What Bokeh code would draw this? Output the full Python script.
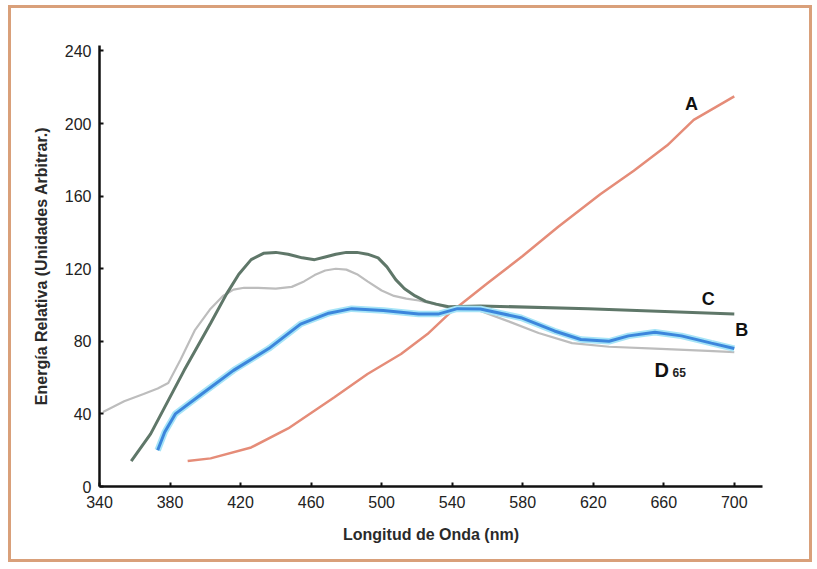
from bokeh.plotting import figure
from bokeh.embed import file_html
from bokeh.resources import INLINE
from bokeh.models import Range1d, FixedTicker
from bokeh.core.properties import value

# Wavelength (nm) and relative energy for each illuminant
A_nm = [390, 403, 426, 447, 473, 492, 511, 526, 538, 560, 580, 600, 624, 643, 662, 677, 700]
A_val = [14, 15.5, 21.5, 32, 49, 62, 73, 84, 95, 112, 127, 143, 161, 174, 188, 202, 215]

C_nm = [358, 369, 388, 403, 412, 419, 426, 433, 440, 447, 455, 462, 468, 474, 480, 486, 492, 498, 503,
        508, 513, 519, 525, 531, 538, 556, 617, 700]
C_val = [14, 29, 64, 90, 106, 117, 125, 128.5, 129, 128, 126, 125, 126.5, 128, 129, 129, 128, 126, 121,
         114, 109, 105, 102, 100.5, 99, 99.5, 98, 95]

D65_nm = [342, 354, 365, 373, 379, 386, 394, 403, 410, 416, 422, 430, 440, 449, 456, 462, 468, 474, 480,
          486, 492, 500, 507, 514, 521, 530, 538, 556, 572, 589, 608, 629, 655, 685, 700]
D65_val = [41, 47, 51, 54, 57, 70, 86, 98, 105, 108.5, 109.5, 109.5, 109, 110, 113, 116.5, 119, 120, 119.5,
           117, 113, 108, 105, 103.5, 102.5, 100.5, 98.5, 96.7, 91, 84.6, 79, 77, 76, 74.7, 74]

B_nm = [373, 377, 383, 398, 416, 436, 454, 470, 483, 501, 521, 532, 543, 556, 579, 598, 613, 629, 640,
        655, 670, 687, 700]
B_val = [20, 30, 40, 51, 64, 76, 89.5, 95.5, 98, 97, 95, 95, 98, 97.8, 93, 85.7, 81, 80, 83,
         85, 83, 79, 76]

x_ticks = [340, 380, 420, 460, 500, 540, 580, 620, 660, 700]
y_ticks = [0, 40, 80, 120, 160, 200, 240]

# curve labels (text, x, y)
lab_text = ["A", "C", "B"]
lab_x = [672, 681.5, 700.5]
lab_y = [211, 103.5, 86]

W, H = 804, 557
p = figure(width=W, height=H, output_backend="svg", toolbar_location=None,
           x_range=Range1d(340, 716), y_range=Range1d(0, 243),
           min_border_left=88, min_border_right=53, min_border_top=37, min_border_bottom=79)
p.styles = {"border": "3px solid #d9a07a", "margin-left": "8px", "margin-top": "5px"}
p.outline_line_color = None
p.xgrid.visible = False
p.ygrid.visible = False
p.background_fill_color = "white"
p.border_fill_color = "white"

for ax in (p.xaxis[0], p.yaxis[0]):
    ax.axis_line_width = 2.5
    ax.axis_line_color = "#111111"
    ax.major_tick_in = 4
    ax.major_tick_out = 0
    ax.major_tick_line_width = 2
    ax.major_tick_line_color = "#111111"
    ax.minor_tick_line_color = None
    ax.major_label_text_font = "Liberation Sans"
    ax.major_label_text_font_size = "16px"
    ax.major_label_text_color = "#222222"
    ax.axis_label_text_font = "Liberation Sans"
    ax.axis_label_text_font_style = "bold"
    ax.axis_label_text_font_size = "16px"
    ax.axis_label_text_color = "#2a2a2a"

p.xaxis[0].ticker = FixedTicker(ticks=x_ticks)
p.yaxis[0].ticker = FixedTicker(ticks=y_ticks)
p.xaxis[0].axis_label = "Longitud de Onda (nm)"
p.yaxis[0].axis_label = "Energía Relativa (Unidades Arbitrar.)"
p.xaxis[0].major_label_standoff = 9
p.yaxis[0].major_label_standoff = 8
p.xaxis[0].axis_label_standoff = 15
p.yaxis[0].axis_label_standoff = 12

p.line(D65_nm, D65_val, line_color="#bdbdbd", line_width=2.2)
p.line(A_nm, A_val, line_color="#e58c78", line_width=2.5)
p.line(C_nm, C_val, line_color="#5f7769", line_width=3)
p.line(B_nm, B_val, line_color="#a6e4f7", line_width=6.5)
p.line(B_nm, B_val, line_color="#3c86dc", line_width=3)

p.text(lab_x, lab_y, text=lab_text, text_font=value("Liberation Sans"), text_font_style="bold",
       text_font_size="18px", text_color="#111111", text_align="left", text_baseline="middle")
p.text([654.7], [64], text=["D"], text_font=value("Liberation Sans"), text_font_style="bold",
       text_font_size="20px", text_color="#111111", text_align="left", text_baseline="middle")
p.text([665], [63], text=["65"], text_font=value("Liberation Sans"), text_font_style="bold",
       text_font_size="12px", text_color="#222222", text_align="left", text_baseline="middle")

open("out.html", "w").write(file_html(p, INLINE))
